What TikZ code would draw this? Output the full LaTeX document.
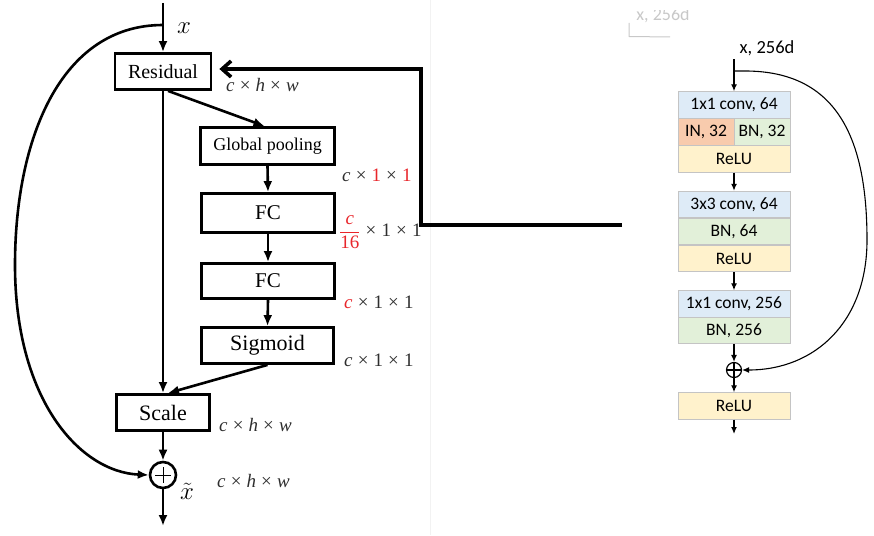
\documentclass[tikz,border=0pt]{standalone}
\usepackage{fontspec}
\setmainfont{Liberation Serif}
\newfontfamily\calfont{Carlito}
\usetikzlibrary{arrows.meta,calc}
\definecolor{cblue}{HTML}{DEEBF7}
\definecolor{corange}{HTML}{F8CBAD}
\definecolor{cgreen}{HTML}{E2F0D9}
\definecolor{cyellow}{HTML}{FFF2CC}
\definecolor{cborder}{HTML}{C4C4C4}
\definecolor{sered}{HTML}{E8262B}
\definecolor{lblgray}{HTML}{2E2E2E}
\definecolor{ghost}{HTML}{C8C8C8}
\newcommand{\tms}{\hspace{0.27em}×\hspace{0.27em}}
\begin{document}
\begin{tikzpicture}[x=1pt,y=-1pt,
  lbox/.style={draw, line width=2.8pt, inner sep=0pt},
  larrow/.style={line width=2.6pt, -{Latex[length=11pt,width=9pt]}},
  dimlbl/.style={text=lblgray, font=\fontsize{19}{19}\selectfont, inner sep=0pt, anchor=west},
  rbox/.style={draw=cborder, line width=0.9pt, inner sep=0pt, minimum width=112pt, minimum height=26.5pt, font=\calfont\fontsize{17.5}{17.5}\selectfont},
  rhalf/.style={rbox, minimum width=56pt},
  rarrow/.style={line width=1.3pt, -{Latex[length=7pt,width=6pt]}},
]
\useasboundingbox (0,0) rectangle (874,535);
% faint separator
\draw[black!5, line width=0.8pt] (430,0) -- (430,535);
% ghost label
\begin{scope}
\clip (600,11) rectangle (720,30);
\node[text=ghost, font=\calfont\fontsize{18}{18}\selectfont, inner sep=0pt] (ghostlbl) at (663,15) {x, 256d};
\end{scope}
\draw[ghost, line width=1pt] (629,23) -- (629,36.5) -- (670,37);

% ---------------- left panel ----------------
\node[lbox, minimum width=96pt, minimum height=36pt, font=\fontsize{20}{20}\selectfont] (res) at (163,71.5) {Residual};
\node[lbox, minimum width=134pt, minimum height=37pt, font=\fontsize{18}{18}\selectfont] (gp) at (267.5,146) {Global pooling};
\node[lbox, minimum width=133pt, minimum height=39pt, font=\fontsize{21}{21}\selectfont] (fc1) at (268,213) {FC};
\node[lbox, minimum width=133pt, minimum height=35pt, font=\fontsize{21}{21}\selectfont] (fc2) at (268,281) {FC};
\node[lbox, minimum width=132pt, minimum height=36pt, font=\fontsize{22}{22}\selectfont] (sig) at (267.5,345.5) {Sigmoid};
\node[lbox, minimum width=93pt, minimum height=36pt, font=\fontsize{22}{22}\selectfont] (scale) at (163,412.5) {Scale};
\node[draw, circle, line width=2.6pt, minimum size=26pt, inner sep=0pt] (lplus) at (163,475) {};
\draw[line width=1pt] ($(lplus.center)+(-8,0)$) -- ($(lplus.center)+(8,0)$);
\draw[line width=1pt] ($(lplus.center)+(0,-8)$) -- ($(lplus.center)+(0,8)$);

\coordinate (lin) at (163,3);
\coordinate (lsplit) at (163,25);
\coordinate (lout) at (163,526);

\draw[larrow] (lin) -- (res.north);
\draw[larrow] (res.south) -- (scale.north);
\draw[larrow] ([xshift=5pt]res.south) -- ([xshift=-3pt]gp.north);
\draw[larrow] (gp.south) -- (fc1.north);
\draw[larrow] (fc1.south) -- (fc2.north);
\draw[larrow] (fc2.south) -- (sig.north);
\draw[larrow] (sig.south) -- ([xshift=5pt]scale.north);
\draw[larrow] (scale.south) -- (lplus.north);
\draw[larrow] (lplus.south) -- (lout);
\draw[larrow] (lsplit) .. controls (60,25) and (15,140) .. (15,265) .. controls (15,400) and (80,472) .. (lplus.west);

\node[font=\fontsize{24}{24}\selectfont, inner sep=0pt] (xlbl) at (184,28) {$x$};
\node[font=\fontsize{24}{24}\selectfont, inner sep=0pt] (xtl) at (187,491) {$\tilde{x}$};

\node[dimlbl] (d1) at (226,85) {\textit{c}\tms\textit{h}\tms\textit{w}};
\node[dimlbl] (d2) at (342,175) {\textit{c}\tms{\color{sered}1}\tms{\color{sered}1}};
\node[dimlbl] (d3) at (339,232) {$\displaystyle{\color{sered}\frac{\mbox{\textit{c}}}{\mbox{16}}}$\tms 1\tms 1};
\node[dimlbl] (d4) at (344,302) {{\color{sered}\textit{c}}\tms 1\tms 1};
\node[dimlbl] (d5) at (344,360) {\textit{c}\tms 1\tms 1};
\node[dimlbl] (d6) at (219,425) {\textit{c}\tms\textit{h}\tms\textit{w}};
\node[dimlbl] (d7) at (217,481) {\textit{c}\tms\textit{h}\tms\textit{w}};

% thick feedback connector
\coordinate (fbR) at (622,225);
\coordinate (fbC) at (421,225);
\draw[line width=3.6pt, shorten >=7pt, -{Straight Barb[length=9pt,width=16pt]}] (fbR) -- (fbC) |- ([yshift=2.5pt]res.east);

% ---------------- right panel ----------------
\node[font=\calfont\fontsize{18.5}{18.5}\selectfont, inner sep=0pt] (rlbl) at (767,48) {x, 256d};
\coordinate (rin) at (734,59);
\coordinate (rsplit) at (734,71);
\node[rbox, fill=cblue] (b1a) at (734,105) {1x1 conv, 64};
\node[rhalf, fill=corange] (b1in) at (706,132) {IN, 32};
\node[rhalf, fill=cgreen] (b1bn) at (762,132) {BN, 32};
\node[rbox, fill=cyellow] (b1c) at (734,159) {ReLU};
\node[rbox, fill=cblue] (b2a) at (734,204.5) {3x3 conv, 64};
\node[rbox, fill=cgreen] (b2b) at (734,231.5) {BN, 64};
\node[rbox, fill=cyellow] (b2c) at (734,258.5) {ReLU};
\node[rbox, fill=cblue] (b3a) at (734,304) {1x1 conv, 256};
\node[rbox, fill=cgreen] (b3b) at (734,330.5) {BN, 256};
\node[draw, circle, line width=1.2pt, minimum size=15pt, inner sep=0pt] (rplus) at (734,370) {};
\draw[line width=1.1pt] (rplus.north) -- (rplus.south);
\draw[line width=1.1pt] (rplus.west) -- (rplus.east);
\node[rbox, fill=cyellow] (b4) at (734,406) {ReLU};
\coordinate (rout) at (734,434);

\draw[rarrow] (rin) -- (b1a.north);
\draw[rarrow] (b1c.south) -- (b2a.north);
\draw[rarrow] (b2c.south) -- (b3a.north);
\draw[rarrow] (b3b.south) -- (rplus.north);
\draw[rarrow] (rplus.south) -- (b4.north);
\draw[rarrow] (b4.south) -- (rout);
\draw[line width=1.1pt, -{Latex[length=7pt,width=6pt]}] (rsplit) -- (745,71) .. controls (838,71) and (867,140) .. (867,240) .. controls (867,322) and (815,370) .. (rplus.east);
\end{tikzpicture}
\end{document}
